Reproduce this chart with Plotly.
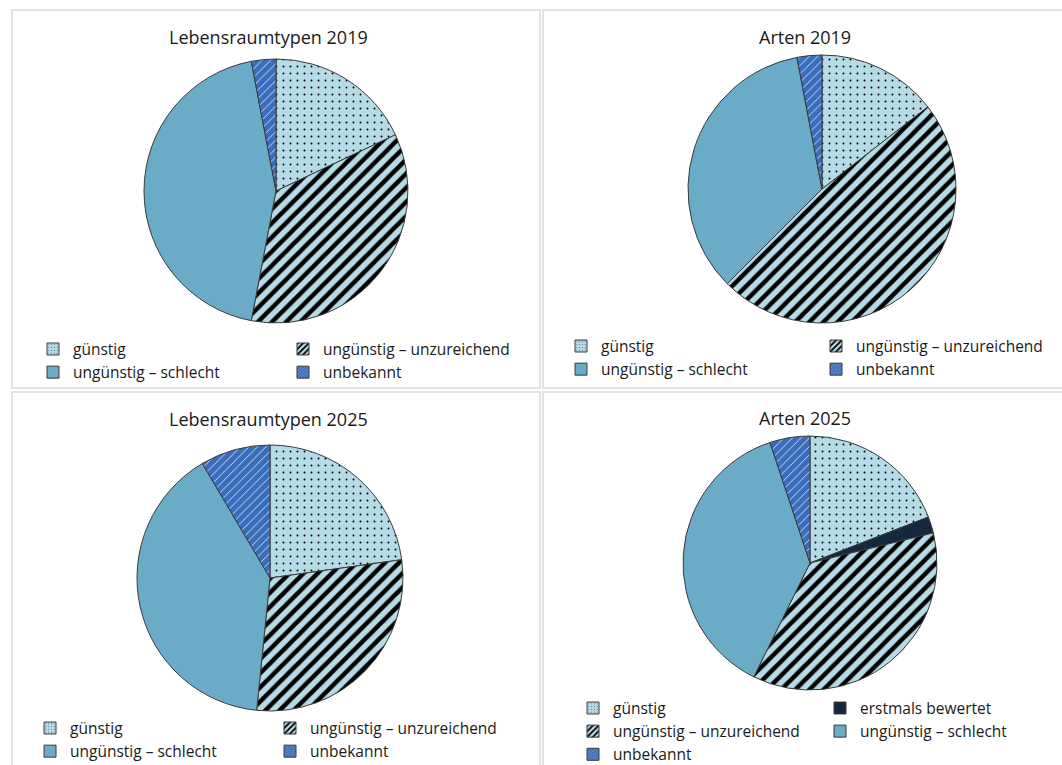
import plotly.graph_objects as go

# ---------------- data (percent shares) ----------------
labels_4 = ["günstig", "ungünstig – unzureichend", "ungünstig – schlecht", "unbekannt"]
labels_5 = ["günstig", "erstmals bewertet", "ungünstig – unzureichend",
            "ungünstig – schlecht", "unbekannt"]

lrt_2019 = [18.0, 35.0, 44.0, 3.0]
arten_2019 = [14.5, 48.0, 34.5, 3.0]
lrt_2025 = [22.8, 28.8, 39.9, 8.5]
arten_2025 = [19.1, 2.1, 36.1, 37.6, 5.1]

titles = ["Lebensraumtypen 2019", "Arten 2019", "Lebensraumtypen 2025", "Arten 2025"]

# legend columns (label order per column)
legend_cols_4 = [["günstig", "ungünstig – schlecht"], ["ungünstig – unzureichend", "unbekannt"]]
legend_cols_5 = [["günstig", "ungünstig – unzureichend", "unbekannt"],
                 ["erstmals bewertet", "ungünstig – schlecht"]]

# ---------------- geometry / styles ----------------
W, H = 1062, 765
FONT = "Open Sans"
TXT = "#1a1a1a"
EDGE = "#3a3a3a"
LEG_FS = 15.5


def px(x):
    return x / W


def py(y):
    return 1 - y / H


style = {
    "günstig": dict(bg="#b5dbe7", shape=".", fg="#000000", size=7, sol=0.06),
    "ungünstig – unzureichend": dict(bg="#b5dbe7", shape="/", fg="#000000", size=10, sol=0.45),
    "ungünstig – schlecht": dict(bg="#6aabc8", shape="", fg="#6aabc8", size=8, sol=0.3),
    "unbekannt": dict(bg="#3a6ebd", shape="/", fg="#ffffff", size=6, sol=0.12),
    "erstmals bewertet": dict(bg="#16283e", shape="", fg="#16283e", size=8, sol=0.3),
}


def dom(cx, cy, r):
    return dict(x=[px(cx - r), px(cx + r)], y=[py(cy + r), py(cy - r)])


panels = [
    dict(labels=labels_4, values=lrt_2019, title=titles[0], c=(276, 191, 132), t=(268, 37),
         box=(12, 540, 10, 388), sw=(52, 349), cols=legend_cols_4, sp=250),
    dict(labels=labels_4, values=arten_2019, title=titles[1], c=(822, 189, 134), t=(805, 37),
         box=(543, 1070, 10, 388), sw=(580, 346), cols=legend_cols_4, sp=255),
    dict(labels=labels_4, values=lrt_2025, title=titles[2], c=(270, 578, 133), t=(268, 419),
         box=(12, 540, 392, 775), sw=(49, 728), cols=legend_cols_4, sp=240),
    dict(labels=labels_5, values=arten_2025, title=titles[3], c=(810, 563, 127), t=(805, 418),
         box=(543, 1070, 392, 775), sw=(592, 708), cols=legend_cols_5, sp=247),
]

fig = go.Figure()
shapes = []
annotations = []
layout_legends = {}
row_h = LEG_FS * 1.3 + 3

for i, p in enumerate(panels):
    labs = p["labels"]
    fig.add_trace(go.Pie(
        labels=labs, values=p["values"], sort=False, direction="clockwise", rotation=0,
        domain=dom(*p["c"]), textinfo="none", hoverinfo="label+percent", showlegend=False,
        marker=dict(
            colors=[style[l]["bg"] for l in labs],
            line=dict(color=EDGE, width=1),
            pattern=dict(
                shape=[style[l]["shape"] for l in labs],
                fgcolor=[style[l]["fg"] for l in labs],
                bgcolor=[style[l]["bg"] for l in labs],
                size=[style[l]["size"] for l in labs],
                solidity=[style[l]["sol"] for l in labs],
                fillmode="replace",
            ),
        ),
    ))
    leg_id = "legend" if i == 0 else f"legend{i + 1}"
    for ci, col in enumerate(p["cols"]):
        for l in col:
            s = style[l]
            fig.add_trace(go.Bar(
                x=[None], y=[None], name=l, legend=leg_id, legendgroup=f"p{i}c{ci}",
                legendwidth=(p["sp"] - 45) if ci == 0 else 210,
                showlegend=True, hoverinfo="skip",
                marker=dict(color=s["bg"], line=dict(color=EDGE, width=1),
                            pattern=dict(shape=s["shape"], fgcolor=s["fg"], bgcolor=s["bg"],
                                         size=max(3, s["size"] * 0.5), solidity=s["sol"],
                                         fillmode="replace")),
            ))
    sx, sy = p["sw"]
    layout_legends[leg_id] = dict(
        x=px(sx - 19), y=py(sy - 5 - row_h / 2), xanchor="left", yanchor="top",
        orientation="h", traceorder="grouped", entrywidthmode="pixels",
        font=dict(family=FONT, size=LEG_FS, color=TXT), bgcolor="rgba(0,0,0,0)",
        itemclick=False, itemdoubleclick=False, tracegroupgap=0,
    )
    x0, x1, y0, y1 = p["box"]
    shapes.append(dict(type="rect", xref="paper", yref="paper", layer="below",
                       x0=px(x0), x1=px(x1), y0=py(y1), y1=py(y0),
                       line=dict(color="#d9d9d9", width=1.5), fillcolor="rgba(0,0,0,0)"))
    tx, ty = p["t"]
    annotations.append(dict(text=p["title"], x=px(tx), y=py(ty), xref="paper", yref="paper",
                            xanchor="center", yanchor="middle", showarrow=False,
                            font=dict(family=FONT, size=18, color=TXT)))

fig.update_layout(
    width=W, height=H, margin=dict(l=0, r=0, t=0, b=0, autoexpand=False), autosize=False,
    paper_bgcolor="white", plot_bgcolor="white",
    xaxis=dict(visible=False), yaxis=dict(visible=False),
    shapes=shapes, annotations=annotations,
    font=dict(family=FONT, color=TXT),
    **layout_legends,
)

fig.write_html(
    "out.html",
    config={"responsive": False, "displayModeBar": False},
    post_script="document.body.style.margin='0px';document.body.style.overflow='hidden';",
)
